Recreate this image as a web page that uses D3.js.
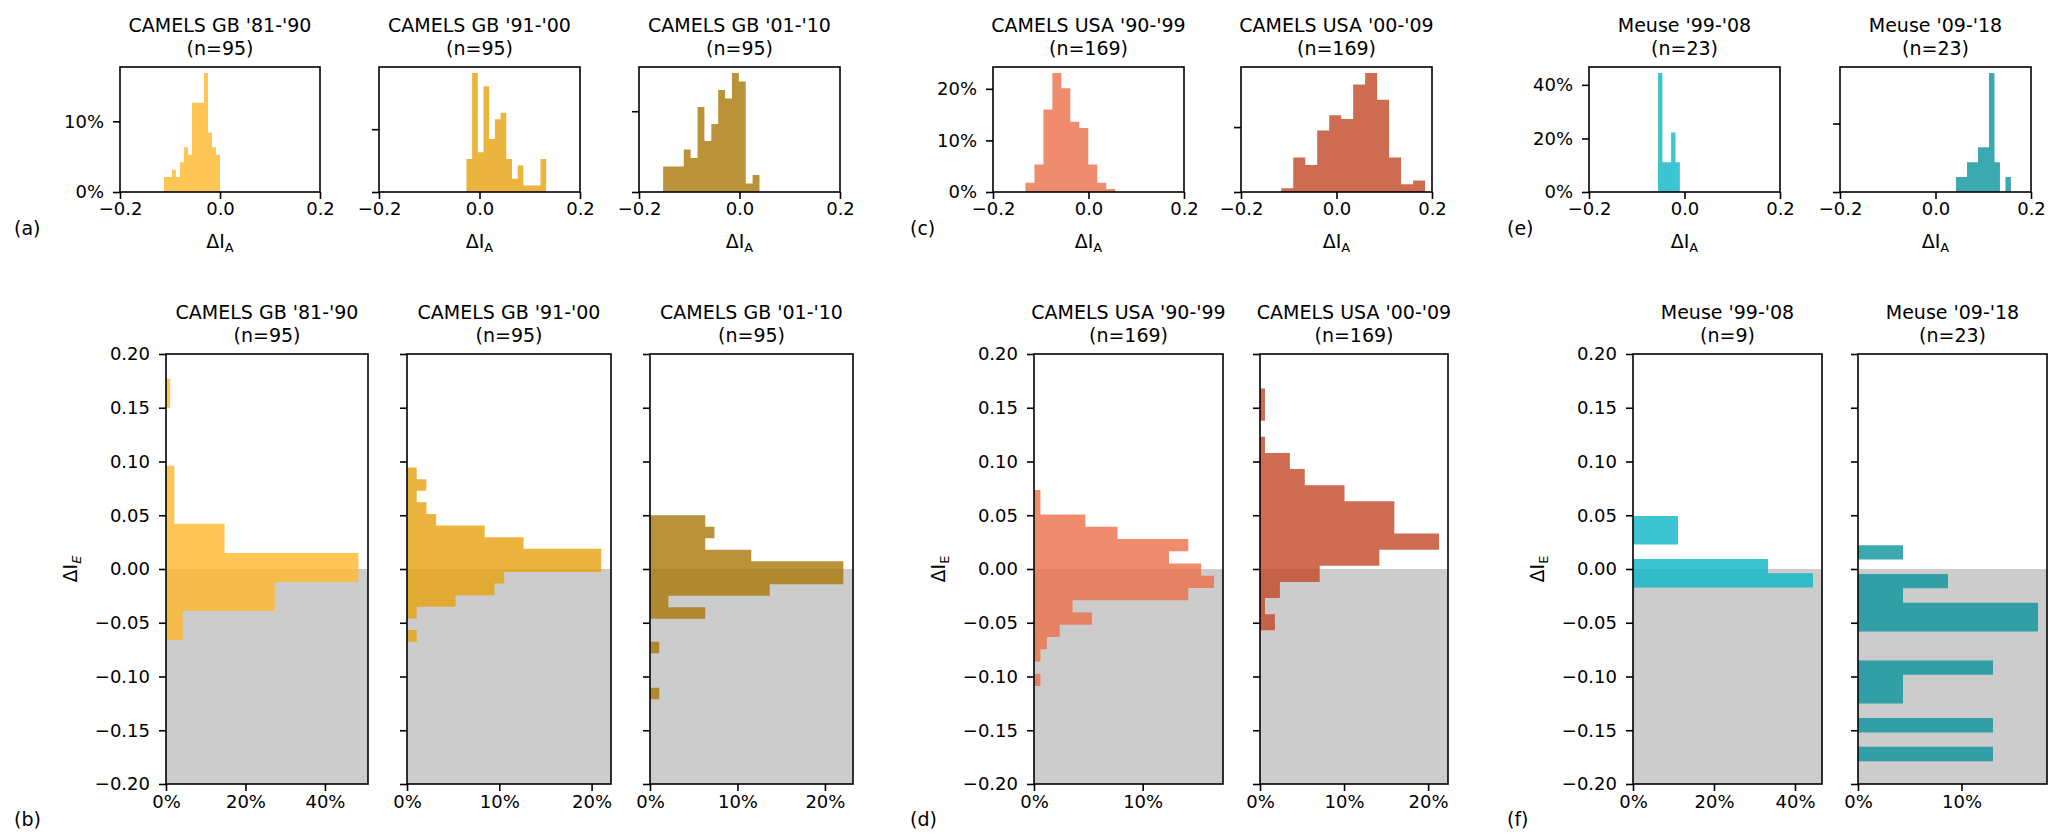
<!DOCTYPE html>
<html><head><meta charset="utf-8">
<script src="https://cdn.jsdelivr.net/npm/d3@7"></script>
<style>body{margin:0;background:#fff}</style>
</head><body>
<svg id="chart" width="2067" height="835"></svg>
<script>
// ================= DATA =================
const panelNames = ["CAMELS GB '81-'90","CAMELS GB '91-'00","CAMELS GB '01-'10","CAMELS USA '90-'99","CAMELS USA '00-'09","Meuse '99-'08","Meuse '09-'18"];
const topTitleN = [95,95,95,169,169,23,23];
const botTitleN = [95,95,95,169,169,9,23];
const topDenominator = [95,95,95,169,169,9,23];
const botDenominator = [95,95,95,169,169,9,23];
const panelColors = ["#FEB82B","#E6A10F","#A97709","#EC6F4A","#C14724","#0BB5C4","#0B929C"];
const panelLabels = ["(a)","(b)","(c)","(d)","(e)","(f)"];

// top row: histograms of ΔIA (bin start, bin width, counts left→right)
const topBinStart = [-0.112,-0.026,-0.152,-0.132,-0.1157,-0.0554,0.043];
const topBinWidth = [0.008,0.01133,0.0137,0.0188,0.0251,0.00912,0.0115];
const topCountsGB1 = [2,2,3,2,4,6,5,12,12,12,16,8,6,5];
const topCountsGB2 = [5,18,6,16,8,11,12,5,2,4,1,1,1,5];
const topCountsGB3 = [3,3,3,5,4,10,6,8,12,11,14,13,1,2];
const topCountsUSA1 = [3,9,27,39,34,23,21,9,3,1];
const topCountsUSA2 = [1,9,7,16,20,19,28,31,24,9,2,3];
const topCountsMeuse1 = [4,1,1,2,1];
const topCountsMeuse2 = [1,1,2,2,3,3,8,2,0,1];

// bottom row: histograms of ΔIE (upper edge of first bin, bin width, counts top→bottom)
const botBinTop = [0.177,0.0944,0.050,0.0735,0.168,0.0493,0.0222];
const botBinWidth = [0.027,0.0108,0.0107,0.0114,0.015,0.0133,0.0134];
const botCountsGB1 = [1,0,0,2,2,14,46,26,4];
const botCountsGB2 = [1,2,1,2,3,8,12,20,20,10,9,5,1,0,1];
const botCountsGB3 = [6,7,6,11,21,21,13,2,6,0,0,1,0,0,0,1];
const botCountsUSA1 = [1,1,8,13,24,21,26,28,24,6,9,4,2,1,0,1];
const botCountsUSA2 = [1,1,0,1,6,9,17,27,27,36,24,12,4,1,3];
const botCountsMeuse1 = [1,1,0,3,4];
const botCountsMeuse2 = [1,0,2,1,4,4,0,0,3,1,1,0,3,0,3];

const topXTicks = [-0.2,0,0.2];
const botYTicks = [-0.2,-0.15,-0.1,-0.05,0,0.05,0.1,0.15,0.2];
const topYTickStep = [10,10,10,10,10,20,20];
const botXTicks = [[0,20,40],[0,10,20],[0,10,20],[0,10],[0,10,20],[0,20,40],[0,10]];

// ================= LAYOUT =================
const topCounts = [topCountsGB1,topCountsGB2,topCountsGB3,topCountsUSA1,topCountsUSA2,topCountsMeuse1,topCountsMeuse2];
const botCounts = [botCountsGB1,botCountsGB2,botCountsGB3,botCountsUSA1,botCountsUSA2,botCountsMeuse1,botCountsMeuse2];
const topX = [[120,320],[379,580],[639,840],[993,1184],[1241,1432],[1589,1780],[1840,2031]];
const botX = [[166,368],[407,611],[650,853],[1034,1223],[1260,1448],[1633,1822],[1858,2047]];
const firstInGroup = [true,false,false,true,false,true,false];
const topY = [192,67], botY = [784,354];
const FONT = "'DejaVu Sans', sans-serif";
const TITLE_FS = 19, TICK_FS = 18, LABEL_FS = 19;
const AXIS_W = 1.6;

const svg = d3.select("#chart");
svg.append("rect").attr("width",2067).attr("height",835).attr("fill","#fff");

function title(g, cx, y1, lines){
  lines.forEach((t,i)=>{
    g.append("text").attr("x",cx).attr("y",y1+i*23).attr("text-anchor","middle")
     .attr("font-family",FONT).attr("font-size",TITLE_FS).attr("fill","#000").text(t);
  });
}
function styleAxis(sel){
  sel.select(".domain").remove();
  sel.selectAll(".tick line").attr("stroke","#000").attr("stroke-width",AXIS_W);
  sel.selectAll(".tick text").attr("font-family",FONT).attr("font-size",TICK_FS).attr("fill","#000");
}
function subLabel(g, main, sub, italic){
  g.append("tspan").text(main);
  g.append("tspan").attr("font-size",13).attr("dy",4).attr("font-style",italic?"italic":"normal").text(sub);
}

const pctFmt = d => d + "%";

for (let i=0;i<7;i++){
  const color = panelColors[i];
  // ---------- top panel ----------
  const tp = topCounts[i].map(c => 100*c/topDenominator[i]);
  const tx = d3.scaleLinear().domain([-0.2,0.2]).range(topX[i]);
  const ty = d3.scaleLinear().domain([0, d3.max(tp)*1.05]).range(topY);
  const gt = svg.append("g");
  const p = d3.path();
  const s0 = topBinStart[i], w0 = topBinWidth[i];
  p.moveTo(tx(s0), ty(0));
  tp.forEach((v,k)=>{ p.lineTo(tx(s0+k*w0), ty(v)); p.lineTo(tx(s0+(k+1)*w0), ty(v)); });
  p.lineTo(tx(s0+tp.length*w0), ty(0)); p.closePath();
  gt.append("path").attr("d",p.toString()).attr("fill",color).attr("fill-opacity",0.8);

  const ytv = d3.range(0, ty.domain()[1]+1e-9, topYTickStep[i]);
  const ya = gt.append("g").attr("transform",`translate(${topX[i][0]},0)`)
    .call(d3.axisLeft(ty).tickValues(ytv).tickSize(7).tickPadding(9).tickFormat(firstInGroup[i]?pctFmt:""));
  styleAxis(ya);
  const xa = gt.append("g").attr("transform",`translate(0,${topY[0]})`)
    .call(d3.axisBottom(tx).tickValues(topXTicks).tickSize(7).tickPadding(3).tickFormat(d3.format(".1f")));
  styleAxis(xa);
  gt.append("rect").attr("x",topX[i][0]).attr("y",topY[1]).attr("width",topX[i][1]-topX[i][0])
    .attr("height",topY[0]-topY[1]).attr("fill","none").attr("stroke","#000").attr("stroke-width",AXIS_W);
  title(gt, (topX[i][0]+topX[i][1])/2, 31.5, [panelNames[i], `(n=${topTitleN[i]})`]);
  const xl = gt.append("text").attr("x",(topX[i][0]+topX[i][1])/2).attr("y",248).attr("text-anchor","middle")
    .attr("font-family",FONT).attr("font-size",LABEL_FS).attr("fill","#000");
  subLabel(xl,"ΔI","A",false);

  // ---------- bottom panel ----------
  const bp = botCounts[i].map(c => 100*c/botDenominator[i]);
  const by = d3.scaleLinear().domain([-0.2,0.2]).range(botY);
  const bx = d3.scaleLinear().domain([0, d3.max(bp)*1.05]).range(botX[i]);
  const gb = svg.append("g");
  gb.append("rect").attr("x",bx(0)).attr("y",by(0)).attr("width",botX[i][1]-bx(0))
    .attr("height",by(-0.2)-by(0)).attr("fill","#cccccc");
  const q = d3.path();
  const t0 = botBinTop[i], w1 = botBinWidth[i];
  q.moveTo(bx(0), by(t0));
  bp.forEach((v,k)=>{ q.lineTo(bx(v), by(t0-k*w1)); q.lineTo(bx(v), by(t0-(k+1)*w1)); });
  q.lineTo(bx(0), by(t0-bp.length*w1)); q.closePath();
  gb.append("path").attr("d",q.toString()).attr("fill",color).attr("fill-opacity",0.8);

  const bya = gb.append("g").attr("transform",`translate(${botX[i][0]},0)`)
    .call(d3.axisLeft(by).tickValues(botYTicks).tickSize(7).tickPadding(9).tickFormat(firstInGroup[i]?d3.format(".2f"):""));
  styleAxis(bya);
  const bxa = gb.append("g").attr("transform",`translate(0,${botY[0]})`)
    .call(d3.axisBottom(bx).tickValues(botXTicks[i]).tickSize(7).tickPadding(4).tickFormat(pctFmt));
  styleAxis(bxa);
  gb.append("rect").attr("x",botX[i][0]).attr("y",botY[1]).attr("width",botX[i][1]-botX[i][0])
    .attr("height",botY[0]-botY[1]).attr("fill","none").attr("stroke","#000").attr("stroke-width",AXIS_W);
  title(gb, (botX[i][0]+botX[i][1])/2, 319, [panelNames[i], `(n=${botTitleN[i]})`]);

  if (firstInGroup[i]){
    const lx = botX[i][0] - 89;
    const yl = gb.append("text").attr("transform",`translate(${lx},569) rotate(-90)`).attr("text-anchor","middle")
      .attr("font-family",FONT).attr("font-size",LABEL_FS).attr("fill","#000");
    subLabel(yl,"ΔI","E", i===0);
  }
}

// panel letters
const letterX = [14,14,910,910,1507,1507];
const letterY = [235,826,235,826,235,826];
panelLabels.forEach((t,k)=>{
  svg.append("text").attr("x",letterX[k]).attr("y",letterY[k]).attr("font-family",FONT)
    .attr("font-size",LABEL_FS).attr("fill","#000").text(t);
});
</script>
</body></html>
